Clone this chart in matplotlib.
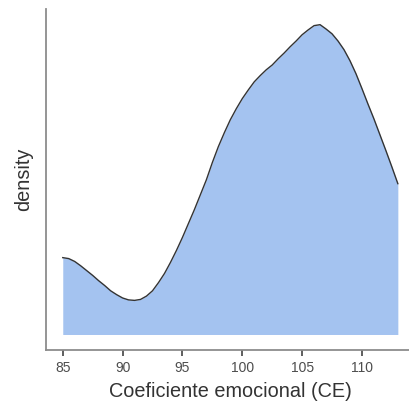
import matplotlib
matplotlib.use("Agg")
import matplotlib.pyplot as plt

plt.rcParams['font.family'] = ['Liberation Sans', 'DejaVu Sans']

# Coeficiente emocional grid (85 .. 113, step 0.5)
x_values = [85 + 0.5 * i for i in range(57)]
density = [0.0160, 0.0158, 0.0152, 0.0143, 0.0133, 0.0123, 0.0112, 0.0102, 0.0091, 0.0083,
           0.0076, 0.0072, 0.0071, 0.0073, 0.0080, 0.0091, 0.0108, 0.0127, 0.0150, 0.0175,
           0.0202, 0.0231, 0.0260, 0.0291, 0.0322, 0.0358, 0.0391, 0.0420, 0.0447, 0.0470,
           0.0491, 0.0509, 0.0526, 0.0539, 0.0551, 0.0561, 0.0574, 0.0586, 0.0599, 0.0611,
           0.0624, 0.0634, 0.0643, 0.0645, 0.0636, 0.0626, 0.0611, 0.0593, 0.0570, 0.0543,
           0.0512, 0.0480, 0.0449, 0.0416, 0.0383, 0.0349, 0.0314]
x_ticks = [85, 90, 95, 100, 105, 110]
x_label = "Coeficiente emocional (CE)"
y_label = "density"

fig = plt.figure(figsize=(4.10, 4.17), dpi=100)
ax = fig.add_axes([46/410, 1-350/417, (414.6-46)/410, (350-9.3)/417])

ax.fill_between(x_values, 0, density, color='#a4c3f0', linewidth=0)
ax.plot(x_values, density, color='#333333', linewidth=1.0)

ax.set_xlim(83.6, 114.4)
ax.set_ylim(-0.00323, 0.0677)
ax.set_xticks(x_ticks)
ax.set_xticklabels([str(t) for t in x_ticks])
ax.set_yticks([])

for s in ['top', 'right']:
    ax.spines[s].set_visible(False)
for s in ['left', 'bottom']:
    ax.spines[s].set_color('#8c8c8c')
    ax.spines[s].set_linewidth(1.3)

ax.tick_params(axis='x', direction='out', length=4, width=1.1, color='#333333',
               labelsize=10, labelcolor='#4d4d4d', pad=4)

ax.set_xlabel(x_label, fontsize=14.3, color='#333333', labelpad=5)
ax.set_ylabel(y_label, fontsize=14.3, color='#333333', labelpad=9)

fig.savefig("out.png", dpi=100)
